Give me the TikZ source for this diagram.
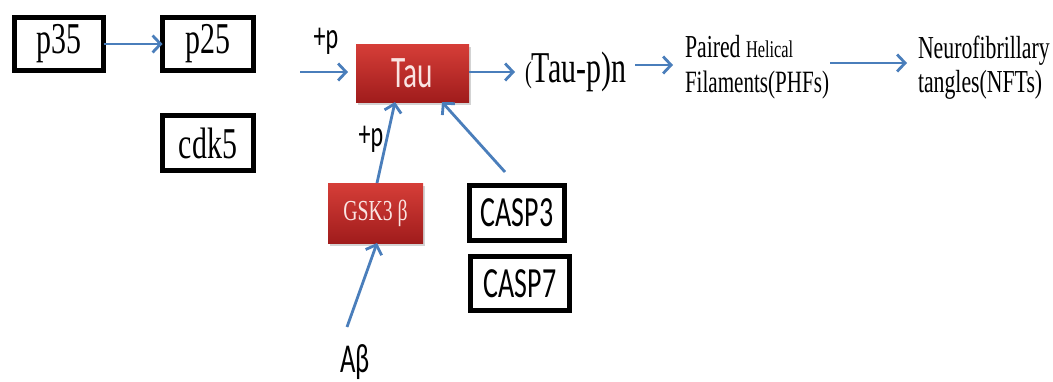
\documentclass[tikz,border=0pt]{standalone}
\usepackage{fontspec}
\setmainfont{Liberation Serif}[FakeStretch=0.68]
\newfontfamily\calib{Carlito}[FakeStretch=0.65]
\usetikzlibrary{arrows.meta,shadows}
\definecolor{arrblue}{RGB}{74,126,187}
\definecolor{redtop}{RGB}{214,62,56}
\definecolor{redbot}{RGB}{160,28,28}
\definecolor{pinktext}{RGB}{250,228,226}
\tikzset{
  blackbox/.style={draw=black,line width=4.8pt,inner sep=0pt,outer sep=0pt,fill=white},
  redbox/.style={inner sep=0pt,outer sep=0pt,top color=redtop,bottom color=redbot,
    drop shadow={opacity=0.35,shadow xshift=1.5pt,shadow yshift=-2.5pt},text=pinktext},
  plain/.style={inner sep=0pt,outer sep=0pt},
  flow/.style={draw=arrblue,line width=2.8pt,-{Straight Barb[length=8pt,width=17pt,line width=2.8pt]}},
}
\newcommand{\serifsz}[1]{\fontsize{#1}{#1}\selectfont}
\begin{document}
\begin{tikzpicture}[x=1pt,y=-1pt]
\useasboundingbox (0,0) rectangle (1053,381);
% black boxes
\node[blackbox,minimum width=89pt,minimum height=53pt] (p35) at (59,44) {\serifsz{44}p35};
\node[blackbox,minimum width=91pt,minimum height=53pt] (p25) at (208,44) {\serifsz{44}p25};
\node[blackbox,minimum width=91pt,minimum height=55pt] (cdk5) at (208,143) {\serifsz{44}cdk5};
\node[blackbox,minimum width=95pt,minimum height=55pt] (casp3) at (517,213) {\calib\serifsz{43}CASP3};
\node[blackbox,minimum width=99pt,minimum height=54pt] (casp7) at (520,283.5) {\calib\serifsz{43}CASP7};
% red boxes
\node[redbox,minimum width=113pt,minimum height=58pt] (tau) at (412.5,73) {\calib\serifsz{45}Tau};
\node[redbox,minimum width=95pt,minimum height=60pt] (gsk) at (375.5,213) {\serifsz{29}GSK3 β};
% text labels
\node[plain] (p1) at (326,41) {\calib\serifsz{37}+p};
\node[plain] (p2) at (371,139) {\calib\serifsz{37}+p};
\node[plain] (ab) at (355,362) {\calib\serifsz{41}Aβ};
\node[plain,anchor=base west] (taup) at (525,82) {{\serifsz{30}(}\serifsz{44}Tau-p)n};
\node[plain,anchor=base west] (phf1) at (685,57) {\serifsz{32}Paired {\serifsz{24}Helical}};
\node[plain,anchor=base west] (phf2) at (685,92) {\serifsz{31}Filaments(PHFs)};
\node[plain,anchor=base west] (nft1) at (918,58) {\serifsz{32}Neurofibrillary};
\node[plain,anchor=base west] (nft2) at (918,92) {\serifsz{32}tangles(NFTs)};
% free ends
\coordinate (tauin) at (300,72);
\coordinate (tauinend) at (348,72);
\coordinate (tauoutend) at (515,72);
\coordinate (taupout) at (635,65);
\coordinate (phfin) at (673,65);
\coordinate (phfout) at (830,63);
\coordinate (nftin) at (907,63);
\coordinate (abstart) at (347,327);
\coordinate (caspstart) at (505,172);
% connectors
\draw[flow] (p35.east) -- (p25.west);
\draw[flow] (tauin) -- (tauinend);
\draw[flow] (tau.east |- tauoutend) -- (tauoutend);
\draw[flow] (taupout) -- (phfin);
\draw[flow] (phfout) -- (nftin);
\draw[flow] ([xshift=1.5pt]gsk.north) -- ([xshift=-17.5pt]tau.south);
\draw[flow] (caspstart) -- ([xshift=29.5pt]tau.south);
\draw[flow] (abstart) -- ([xshift=1.5pt]gsk.south);
\end{tikzpicture}
\end{document}
